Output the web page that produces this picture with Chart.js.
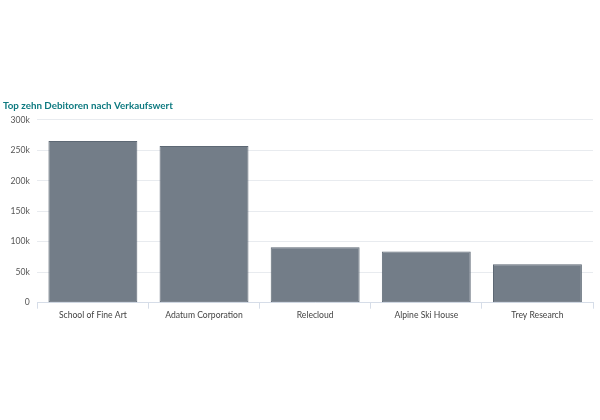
<!DOCTYPE html>
<html>
<head>
<meta charset="utf-8">
<script src="https://cdn.jsdelivr.net/npm/chart.js@4"></script>
<style>
  html,body{margin:0;padding:0;background:#fff;}
  #wrap{width:600px;height:420px;}
</style>
</head>
<body>
<div id="wrap"><canvas id="myChart"></canvas></div>
<script>
// data
var kunden = ['School of Fine Art', 'Adatum Corporation', 'Relecloud', 'Alpine Ski House', 'Trey Research'];
var verkaufswert = [265000, 257000, 91000, 84000, 63000];
var titel = 'Top zehn Debitoren nach Verkaufswert';

var fontName = "Lato, 'Open Sans', sans-serif";

var ctx = document.getElementById('myChart').getContext('2d');
var chart = new Chart(ctx, {
    type: 'bar',
    data: {
        labels: kunden,
        datasets: [{
            label: 'Verkaufswert',
            data: verkaufswert,
            backgroundColor: '#737d88',
            borderColor: '#5d6874',
            borderWidth: 1,
            borderSkipped: false,
            barPercentage: 0.8,
            categoryPercentage: 1.0
        }]
    },
    options: {
        responsive: true,
        maintainAspectRatio: false,
        animation: false,
        layout: {
            padding: {top: 100, bottom: 99, left: 3, right: 7}
        },
        plugins: {
            legend: {display: false},
            tooltip: {enabled: false},
            title: {
                display: true,
                text: titel,
                align: 'start',
                color: '#0e7a80',
                font: {family: fontName, size: 9.8, weight: 'bold'},
                padding: {top: 0, bottom: 8}
            }
        },
        scales: {
            x: {
                grid: {
                    display: true,
                    drawOnChartArea: false,
                    drawTicks: true,
                    tickLength: 6,
                    offset: true,
                    color: '#d6dde8'
                },
                border: {color: '#d6dde8'},
                ticks: {
                    color: '#444',
                    font: {family: fontName, size: 8.6},
                    padding: 1
                }
            },
            y: {
                min: 0,
                max: 300000,
                grid: {
                    color: '#e8ebef',
                    drawTicks: false
                },
                border: {display: false},
                ticks: {
                    stepSize: 50000,
                    color: '#555',
                    padding: 7.5,
                    font: {family: fontName, size: 8.6},
                    callback: function(v){ return v === 0 ? '0' : (v/1000) + 'k'; }
                }
            }
        }
    }
});
</script>
</body>
</html>
